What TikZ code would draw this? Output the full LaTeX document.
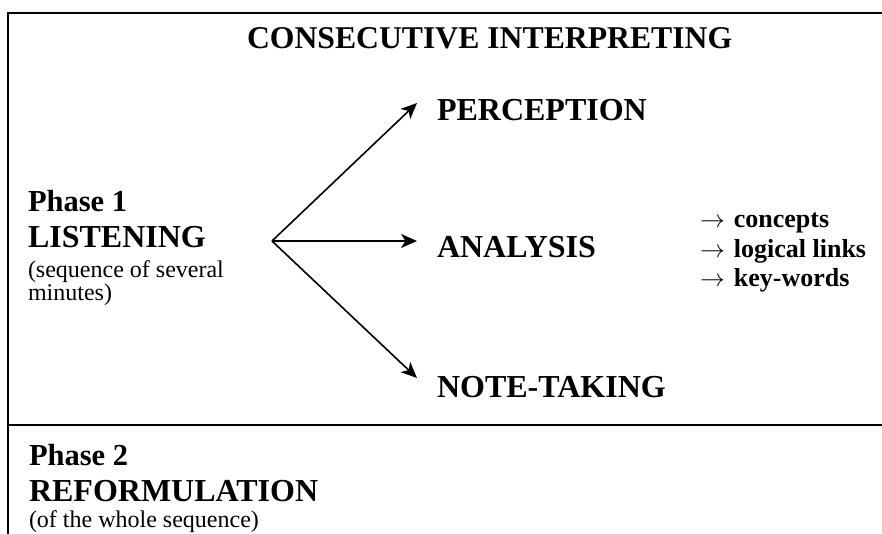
\documentclass[tikz,border=0pt]{standalone}
\usepackage{fontspec}
\setmainfont{Liberation Serif}
\usetikzlibrary{arrows.meta}
\tikzset{
  txt/.style={anchor=base west, inner sep=0pt, outer sep=0pt},
  big/.style={txt, font=\bfseries\fontsize{32}{32}\selectfont},
  title/.style={txt, font=\bfseries\fontsize{31.7}{31.7}\selectfont},
  phase/.style={txt, font=\bfseries\fontsize{30.5}{30.5}\selectfont},
  small/.style={txt, font=\fontsize{24}{24}\selectfont},
  listtxt/.style={txt, font=\bfseries\fontsize{26}{26}\selectfont},
  frame/.style={line width=2pt, black},
  branch/.style={line width=1.6pt, -{Stealth[length=16pt, width=14pt, inset=4.5pt]}}
}
\newcommand{\listarrow}{$\rightarrow$\hspace{9pt}}
\begin{document}
\begin{tikzpicture}[x=1pt, y=-1pt]
\useasboundingbox (0,0) rectangle (882,534);
% frame
\draw[frame] (8,534) -- (8,13) -- (882,13);
\draw[frame] (8,425) -- (882,425);
% title
\node[title] (ttl) at (247,49) {CONSECUTIVE INTERPRETING};
% phase 1
\node[phase] (p1) at (28,212) {Phase 1};
\node[big] (lis) at (28,248) {LISTENING};
\node[small] (seq1) at (28,277) {(sequence of several};
\node[small] (seq2) at (28,300) {minutes)};
% targets
\node[big] (per) at (437,121) {PERCEPTION};
\node[big] (ana) at (437,258) {ANALYSIS};
\node[big] (note) at (437,397) {NOTE-TAKING};
% list
\node[listtxt] (l1) at (700,228) {\listarrow concepts};
\node[listtxt] (l2) at (700,258) {\listarrow logical links};
\node[listtxt] (l3) at (700,287) {\listarrow key-words};
% arrows
\coordinate (o) at (272,241);
\coordinate (t1) at (417,103);
\coordinate (t2) at (417,241);
\coordinate (t3) at (417,378);
\draw[branch] (o) -- (t1);
\draw[branch] (o) -- (t2);
\draw[branch] (o) -- (t3);
% phase 2
\node[phase] (p2) at (29,465) {Phase 2};
\node[big] (ref) at (29,501) {REFORMULATION};
\node[small] (seq3) at (29,527) {(of the whole sequence)};
\end{tikzpicture}
\end{document}
